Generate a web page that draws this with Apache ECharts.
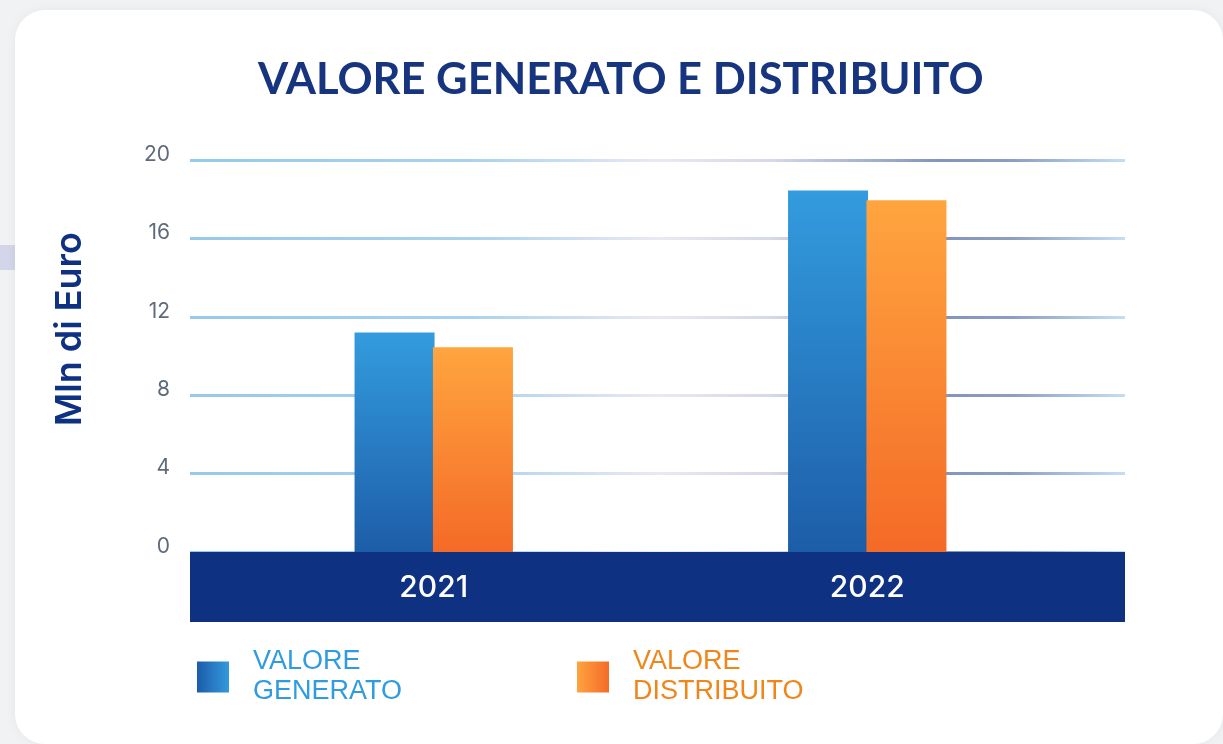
<!DOCTYPE html>
<html>
<head>
<meta charset="utf-8">
<script src="https://cdn.jsdelivr.net/npm/echarts@6/dist/echarts.min.js"></script>
<style>
  html, body { margin: 0; padding: 0; background: #f1f2f4; }
  #chart { width: 1223px; height: 744px; }
</style>
</head>
<body>
<div id="chart"></div>
<script>
// data
const years = ["2021", "2022"];
const valoreGenerato = [11.2, 18.45];
const valoreDistribuito = [10.45, 17.95];
const seriesNames = ["VALORE\nGENERATO", "VALORE\nDISTRIBUITO"];

const G = echarts.graphic;
const blueBar = new G.LinearGradient(0, 0, 0, 1, [
  { offset: 0, color: "#339cde" },
  { offset: 1, color: "#1d5da8" }
]);
const orangeBar = new G.LinearGradient(0, 0, 0, 1, [
  { offset: 0, color: "#ffa53f" },
  { offset: 1, color: "#f46a27" }
]);
const blueIcon = new G.LinearGradient(0, 0, 1, 0, [
  { offset: 0, color: "#1c5caa" },
  { offset: 1, color: "#3399dd" }
]);
const orangeIcon = new G.LinearGradient(0, 0, 1, 0, [
  { offset: 0, color: "#ffa33f" },
  { offset: 1, color: "#f46b28" }
]);
// grid lines fade from light blue to lavender to slate and back
const gridLineColor = new G.LinearGradient(190, 0, 1125, 0, [
  { offset: 0, color: "#97c9ea" },
  { offset: 0.3, color: "#a9d2ef" },
  { offset: 0.5, color: "#ebe8f2" },
  { offset: 0.62, color: "#d6d9e8" },
  { offset: 0.8, color: "#8294bc" },
  { offset: 0.88, color: "#8d9ec3" },
  { offset: 1, color: "#c2def5" }
], true);

const legendText = { fontFamily: "Liberation Sans", fontSize: 27, lineHeight: 30, padding: [0, 0, 0, 19] };

const chart = echarts.init(document.getElementById("chart"));

const option = {
  backgroundColor: "#f1f2f4",
  animation: false,
  graphic: [
    {
      type: "rect", z: -10, silent: true,
      shape: { x: 0, y: 245, width: 15, height: 25 },
      style: { fill: "#d3d6e8" }
    },
    {
      type: "rect", z: -9, silent: true,
      shape: { x: 15, y: 10, width: 1208, height: 734, r: 30 },
      style: { fill: "#ffffff", shadowBlur: 12, shadowColor: "rgba(0,0,0,0.05)" }
    }
  ],
  title: {
    text: "VALORE GENERATO E DISTRIBUITO",
    left: 253,
    top: 53,
    textStyle: {
      fontFamily: "Lato",
      fontWeight: "bold",
      fontSize: 43.5,
      color: "#17357f"
    }
  },
  legend: [
    {
      left: 197, top: 647, padding: 0,
      icon: "rect", itemWidth: 32, itemHeight: 31,
      data: [{ name: seriesNames[0], itemStyle: { color: blueIcon }, textStyle: { color: "#2f9be0" } }],
      textStyle: legendText
    },
    {
      left: 577, top: 647, padding: 0,
      icon: "rect", itemWidth: 32, itemHeight: 31,
      data: [{ name: seriesNames[1], itemStyle: { color: orangeIcon }, textStyle: { color: "#f0861a" } }],
      textStyle: legendText
    }
  ],
  grid: [
    { left: 190, top: 160, width: 935, height: 392 },
    { left: 217, top: 160, width: 867, height: 392 }
  ],
  xAxis: [
    {
      gridIndex: 0, type: "category", data: years,
      offset: 35,
      axisLine: { onZero: false, lineStyle: { color: "#0f3182", width: 70, cap: "butt" } },
      axisTick: { show: false },
      axisLabel: { show: false }
    },
    {
      gridIndex: 1, type: "category", data: years, z: 5,
      axisLine: { show: false },
      axisTick: { show: false },
      axisLabel: { color: "#ffffff", fontFamily: "Inter", fontSize: 30, fontWeight: 500, margin: 21 }
    }
  ],
  yAxis: [
    {
      gridIndex: 0, type: "value", min: 0, max: 20, interval: 4,
      name: "Mln di Euro",
      nameLocation: "middle",
      nameGap: 102,
      nameTextStyle: {
        fontFamily: "Inter", fontSize: 36, fontWeight: 600, color: "#0f3182",
        padding: [0, 0, 0, 54]
      },
      axisLine: { show: false },
      axisTick: { show: false },
      axisLabel: {
        color: "#5f6b7a", fontFamily: "Inter", fontSize: 21, margin: 20,
        verticalAlign: "bottom", lineHeight: 11
      },
      splitLine: { lineStyle: { color: gridLineColor, width: 3 } }
    },
    {
      gridIndex: 1, type: "value", min: 0, max: 20, show: false,
      splitLine: { show: false }
    }
  ],
  series: [
    {
      name: seriesNames[0], type: "bar",
      xAxisIndex: 1, yAxisIndex: 1,
      data: valoreGenerato,
      barWidth: 80, barGap: "-2%",
      itemStyle: { color: blueBar }
    },
    {
      name: seriesNames[1], type: "bar",
      xAxisIndex: 1, yAxisIndex: 1,
      data: valoreDistribuito,
      barWidth: 80, barGap: "-2%",
      itemStyle: { color: orangeBar }
    }
  ]
};

chart.setOption(option);
</script>
</body>
</html>
